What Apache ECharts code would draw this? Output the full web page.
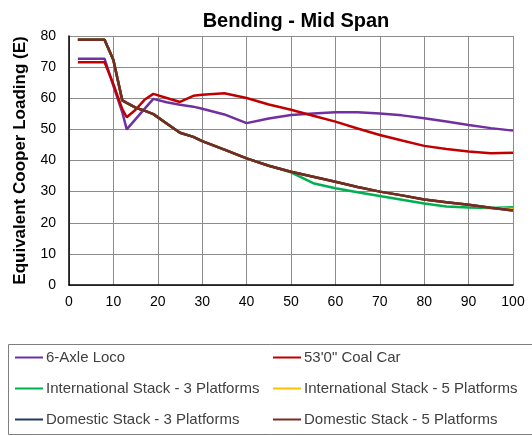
<!DOCTYPE html>
<html>
<head>
<meta charset="utf-8">
<script src="https://cdn.jsdelivr.net/npm/echarts@6/dist/echarts.min.js"></script>
<style>
  html, body { margin: 0; padding: 0; background: #fff; }
  #chart { width: 532px; height: 436px; }
</style>
</head>
<body>
<div id="chart"></div>
<script>
// Span lengths (ft) shared by every series
const spans = [2, 8, 10, 12, 13, 15, 17, 19, 22, 25, 28, 30, 35, 40, 45, 50, 55, 60, 65, 70, 75, 80, 85, 90, 95, 100];

const axleLoco6   = [72.7, 72.7, 64.0, 55.5, 50.0, 53.3, 56.6, 59.8, 58.7, 57.9, 57.3, 56.6, 54.8, 52.0, 53.5, 54.6, 55.1, 55.5, 55.5, 55.1, 54.5, 53.6, 52.5, 51.4, 50.4, 49.6];
const coalCar53   = [71.6, 71.6, 64.5, 56.5, 53.9, 56.3, 59.5, 61.4, 60.1, 58.8, 60.8, 61.1, 61.6, 60.1, 58.0, 56.3, 54.4, 52.5, 50.3, 48.2, 46.4, 44.7, 43.7, 42.9, 42.3, 42.5];
const intlStack3  = [78.8, 78.8, 72.3, 59.3, 58.5, 57.0, 56.0, 54.9, 51.9, 48.9, 47.6, 46.2, 43.5, 40.7, 38.3, 36.2, 32.7, 31.1, 29.8, 28.6, 27.4, 26.2, 25.2, 24.9, 24.7, 25.0];
const intlStack5  = [78.8, 78.8, 72.3, 59.3, 58.5, 57.0, 56.0, 54.9, 51.9, 48.9, 47.6, 46.2, 43.5, 40.7, 38.3, 36.4, 34.8, 33.2, 31.5, 30.0, 28.8, 27.5, 26.6, 25.8, 24.7, 24.4];
const domStack3   = [78.8, 78.8, 72.3, 59.3, 58.5, 57.0, 56.0, 54.9, 51.9, 48.9, 47.6, 46.2, 43.5, 40.7, 38.3, 36.4, 34.8, 33.2, 31.5, 30.0, 28.8, 27.5, 26.6, 25.8, 24.8, 23.9];
const domStack5   = [78.8, 78.8, 72.3, 59.3, 58.5, 57.0, 56.0, 54.9, 51.9, 48.9, 47.6, 46.2, 43.5, 40.7, 38.3, 36.4, 34.8, 33.2, 31.5, 30.0, 28.8, 27.5, 26.6, 25.8, 24.8, 23.9];

const seriesNames = [
  '6-Axle Loco',
  '53\'0" Coal Car',
  'International Stack - 3 Platforms',
  'International Stack - 5 Platforms',
  'Domestic Stack - 3 Platforms',
  'Domestic Stack - 5 Platforms'
];
const seriesValues = [axleLoco6, coalCar53, intlStack3, intlStack5, domStack3, domStack5];
const seriesColors = ['#7030a0', '#c00000', '#00b050', '#ffc000', '#1f3864', '#772c22'];

const xTicks = { min: 0, max: 100, interval: 10 };
const yTicks = { min: 0, max: 80, interval: 10 };

const font = 'Liberation Sans, Arial, sans-serif';

const chart = echarts.init(document.getElementById('chart'), null, { renderer: 'canvas' });

const series = seriesNames.map((name, i) => ({
  name: name,
  type: 'line',
  data: spans.map((x, k) => [x, seriesValues[i][k]]),
  symbol: 'none',
  smooth: false,
  lineStyle: { width: 2.5, color: seriesColors[i] },
  itemStyle: { color: seriesColors[i] },
  z: 2 + i,
  animation: false
}));

// two legend columns, three rows
const legendPos = [
  { left: 15, top: 350 }, { left: 273, top: 350 },
  { left: 15, top: 381 }, { left: 273, top: 381 },
  { left: 15, top: 412 }, { left: 273, top: 412 }
];
const legends = seriesNames.map((name, i) => ({
  data: [name],
  left: legendPos[i].left,
  top: legendPos[i].top,
  padding: 0,
  icon: 'rect',
  itemWidth: 28,
  itemHeight: 2,
  selectedMode: false,
  textStyle: { fontFamily: font, fontSize: 15, color: '#404040', padding: [0, 0, 0, -2] }
}));

chart.setOption({
  animation: false,
  backgroundColor: '#ffffff',
  title: {
    text: 'Bending - Mid Span',
    left: 291,
    textAlign: 'center',
    top: 6,
    textStyle: { fontFamily: font, fontSize: 20, fontWeight: 'bold', color: '#000' }
  },
  legend: legends,
  graphic: [{
    type: 'rect',
    shape: { x: 8.5, y: 344.5, width: 530, height: 90 },
    style: { fill: 'none', stroke: '#7f7f7f', lineWidth: 1 },
    silent: true
  }],
  grid: { left: 69, right: 19, top: 36, bottom: 151 },
  xAxis: {
    type: 'value',
    min: xTicks.min, max: xTicks.max, interval: xTicks.interval,
    axisLine: { show: true, onZero: false, lineStyle: { color: '#000', width: 1.5 } },
    axisTick: { show: false },
    axisLabel: { fontFamily: font, fontSize: 14, color: '#000', margin: 10 },
    splitLine: { show: true, lineStyle: { color: '#8c8c8c', width: 1 } }
  },
  yAxis: {
    type: 'value',
    min: yTicks.min, max: yTicks.max, interval: yTicks.interval,
    name: 'Equivalent Cooper Loading (E)',
    nameLocation: 'middle',
    nameGap: 40,
    nameTextStyle: { fontFamily: font, fontSize: 17, fontWeight: 'bold', color: '#000' },
    axisLine: { show: true, lineStyle: { color: '#000', width: 1.5 } },
    axisTick: { show: false },
    axisLabel: { fontFamily: font, fontSize: 14, color: '#000', margin: 13 },
    splitLine: { show: true, lineStyle: { color: '#8c8c8c', width: 1 } }
  },
  series: series
});
</script>
</body>
</html>
